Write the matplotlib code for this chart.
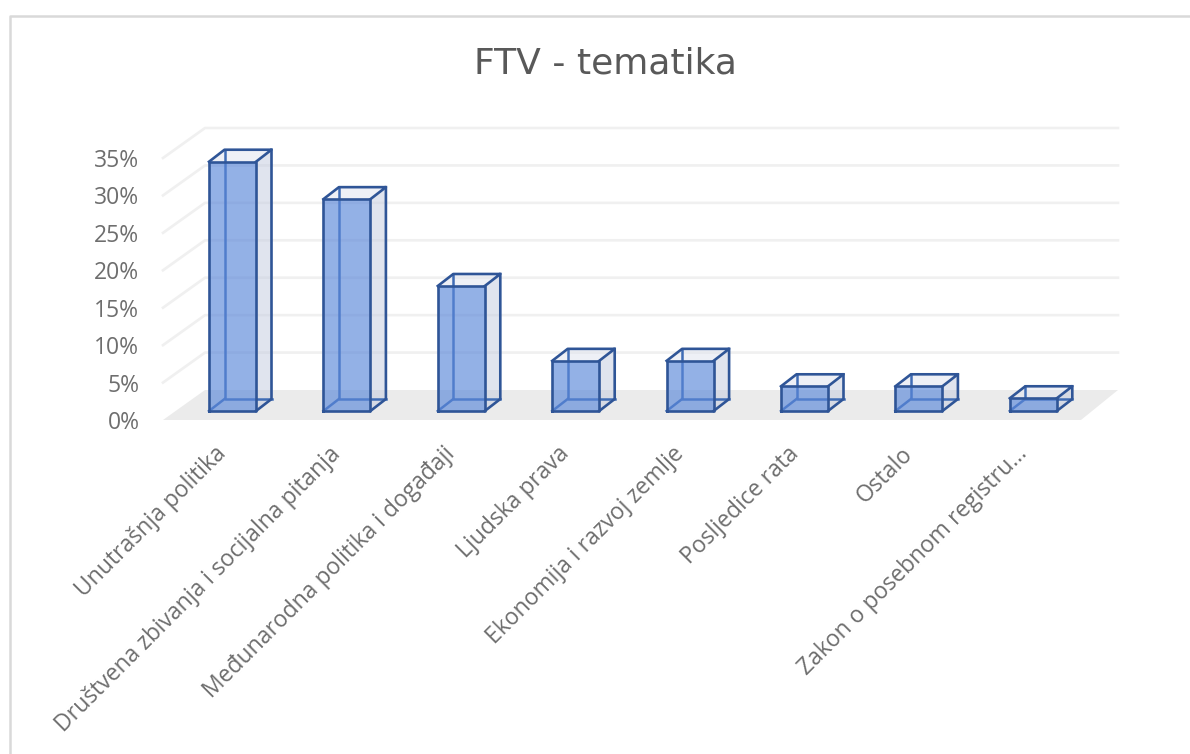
import matplotlib
matplotlib.use("Agg")
import matplotlib.pyplot as plt
from matplotlib.patches import Polygon, Rectangle
from matplotlib.lines import Line2D

categories = ['Unutrašnja politika', 'Društvena zbivanja i socijalna pitanja',
              'Međunarodna politika i događaji', 'Ljudska prava',
              'Ekonomija i razvoj zemlje', 'Posljedice rata', 'Ostalo',
              'Zakon o posebnom registru…']
values = [33.3, 28.3, 16.7, 6.7, 6.7, 3.3, 3.3, 1.7]
yticks = [0, 5, 10, 15, 20, 25, 30, 35]
title = 'FTV - tematika'

W, H = 1190, 754
GREY = '#6e6e6e'
EDGE = '#2f5597'
plt.rcParams['font.family'] = ['Open Sans', 'DejaVu Sans']

fig = plt.figure(figsize=(W / 100, H / 100), dpi=100)
# plot area = front plane of the 3d box, in pixels
left, right, top, bottom = 163, 1081, 158, 420
ax = fig.add_axes([left / W, 1 - bottom / H, (right - left) / W, (bottom - top) / H])
step = 114.4
ax.set_xlim((left - 232.5) / step, (right - 232.5) / step)
ax.set_ylim(0, 35)
for s in ax.spines.values():
    s.set_visible(False)
ax.patch.set_alpha(0)

px_x = 1 / step
px_y = 35 / (bottom - top)
x0, x1 = ax.get_xlim()

# floor and walls
back_y = 30 * px_y
back_l = x0 + 42 * px_x
back_r = x1 + 37 * px_x
ax.add_patch(Polygon([(x0, 0), (x1, 0), (back_r, back_y), (back_l, back_y)],
                     fc='#ebebeb', ec='none', clip_on=False, zorder=1))
for v in yticks[1:]:
    ax.plot([x0, back_l, back_r], [v, v + back_y, v + back_y], color='#f0f0f0',
            lw=1.9, clip_on=False, zorder=1, solid_joinstyle='round')

# bars
bw = 47 * px_x
dx = 15.5 * px_x
dy = 12 * px_y
base = 9 * px_y
for i, v in enumerate(values):
    l = i - bw / 2
    r = i + bw / 2
    b = base
    t = base + v
    # side and top faces
    ax.add_patch(Polygon([(r, b), (r + dx, b + dy), (r + dx, t + dy), (r, t)],
                         fc='#c3cbdf', alpha=0.5, ec='none', clip_on=False, zorder=2))
    ax.add_patch(Polygon([(l, t), (r, t), (r + dx, t + dy), (l + dx, t + dy)],
                         fc='#dfe3ee', alpha=0.5, ec='none', clip_on=False, zorder=2))
    # hidden edges
    ax.plot([l + dx, l + dx, r + dx], [t + dy, b + dy, b + dy], color='#3f6cb5',
            lw=1.8, clip_on=False, zorder=3)
    ax.plot([l, l + dx], [b, b + dy], color='#3f6cb5', lw=1.8, clip_on=False, zorder=3)
    # front face
    ax.add_patch(Rectangle((l, b), bw, v, fc='#5a87d9', alpha=0.65, ec='none',
                           clip_on=False, zorder=4))
    # visible edges
    ax.plot([l, l, r, r, l], [b, t, t, b, b], color=EDGE, lw=1.9, clip_on=False, zorder=5)
    ax.plot([l, l + dx, r + dx, r], [t, t + dy, t + dy, t], color=EDGE, lw=1.9,
            clip_on=False, zorder=5)
    ax.plot([r + dx, r + dx, r], [t + dy, b + dy, b], color=EDGE, lw=1.9,
            clip_on=False, zorder=5)

ax.set_yticks(yticks)
ax.set_yticklabels([f'{v}%' for v in yticks], fontsize=16.5, color=GREY)
# labels hang a bit left of the bar centres in the original
ax.set_xticks([i - 18 * px_x for i in range(len(categories))])
ax.set_xticklabels(categories, fontsize=16.5, color=GREY, rotation=45, ha='right',
                   rotation_mode='anchor')
ax.tick_params(axis='both', length=0)
ax.tick_params(axis='y', pad=17)
ax.tick_params(axis='x', pad=16)

fig.text(605.5 / W, 1 - 64 / H, title, fontsize=26, color='#595959', ha='center', va='center',
         family='DejaVu Sans')

# chart border, only top and left are inside the crop
fig.add_artist(Line2D([10 / W, 10 / W, 1], [0, 1 - 16 / H, 1 - 16 / H], transform=fig.transFigure,
                      color='#d9d9d9', lw=1.8))
fig.savefig('out.png', dpi=100)
